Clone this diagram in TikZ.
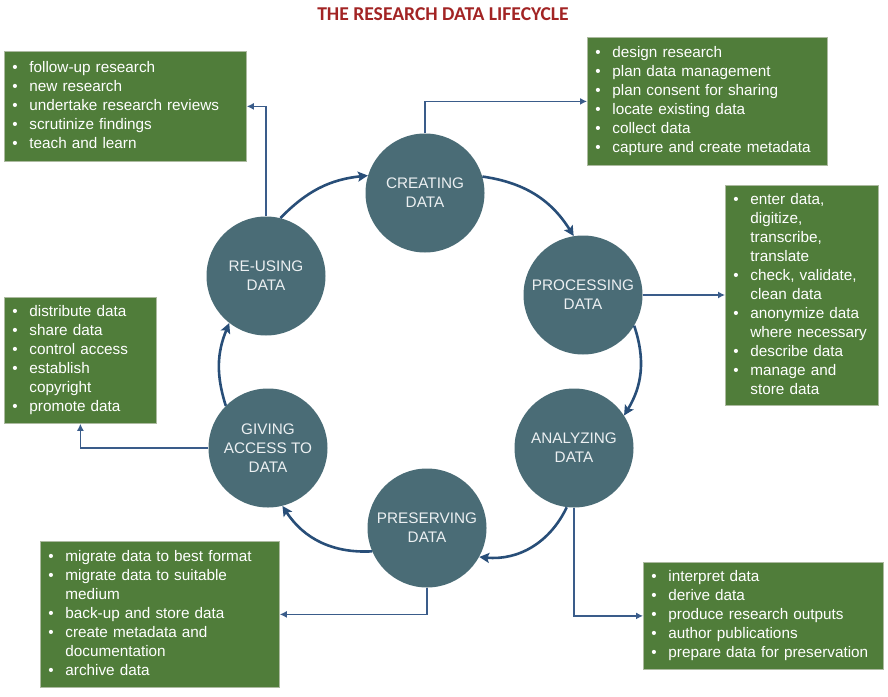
\documentclass[tikz,border=0pt]{standalone}
\usepackage{fontspec}
\setmainfont{Liberation Sans}
\newfontfamily\titlefont{Carlito}
\usetikzlibrary{arrows.meta,shapes,positioning}
\definecolor{stagefill}{RGB}{74,108,118}
\definecolor{stagetext}{RGB}{236,240,242}
\definecolor{boxgreen}{RGB}{80,125,58}
\definecolor{boxline}{RGB}{172,186,160}
\definecolor{turncol}{RGB}{40,78,120}
\definecolor{linkcol}{RGB}{58,92,138}
\definecolor{titlered}{RGB}{162,36,36}
\newcommand{\bul}{\textbullet}
\newcommand{\tasklist}[1]{\begin{tabular}{@{}p{17pt}@{}l@{}}#1\end{tabular}}

\begin{document}
\begin{tikzpicture}[x=1pt,y=-1pt]
   \useasboundingbox (0,0) rectangle (888,696);
   \tikzstyle{stage}=[circle, minimum size=119pt, inner sep=0pt, fill=stagefill, text=stagetext, align=center, font=\fontsize{15.3}{19}\selectfont]
   \tikzstyle{tasks}=[anchor=north west, draw=boxline, line width=0.8pt, fill=boxgreen, text=white, inner xsep=8pt, inner ysep=0pt, align=left, font=\fontsize{15.3}{19}\selectfont]
   \tikzstyle{turn}=[-{Stealth[length=10pt,width=10pt,inset=2pt]}, line width=2.6pt, draw=turncol]
   \tikzstyle{link}=[-{Latex[length=7pt,width=7pt]}, line width=1.3pt, draw=linkcol]
   \node[text=titlered, font=\titlefont\bfseries\fontsize{19.6}{22}\selectfont] (title) at (443,14) {THE RESEARCH DATA LIFECYCLE};
   % the six stages
   \foreach \name/\x/\y/\txt in {create/425/193/{CREATING\\DATA}, process/583/295/{PROCESSING\\DATA}, analyze/574/448/{ANALYZING\\DATA}, preserve/427/528/{PRESERVING\\DATA}, access/268/448/{GIVING\\ACCESS TO\\DATA}, reuse/266/276/{RE-USING\\DATA}} {
       \node[stage] (\name) at (\x,\y) {\txt};
   }
   \foreach \a/\b/\bend in {reuse.76/create.163/20, create.16/process.99/25, process.-31/analyze.33/25, analyze.-97/preserve.-29/35, preserve.-157/access.-76/30, access.135/reuse.-128/20} {
       \draw[turn] (\a) to[bend left=\bend] (\b);
   }
   % what happens in each stage
   \node[tasks, text width=226pt, minimum height=110pt] (reusebox) at (4,51) {\tasklist{
      \bul & follow-up research\\
      \bul & new research\\
      \bul & undertake research reviews\\
      \bul & scrutinize findings\\
      \bul & teach and learn}};
   \node[tasks, text width=224pt, minimum height=128pt] (createbox) at (587,37) {\tasklist{
      \bul & design research\\
      \bul & plan data management\\
      \bul & plan consent for sharing\\
      \bul & locate existing data\\
      \bul & collect data\\
      \bul & capture and create metadata}};
   \node[tasks, text width=137pt, minimum height=220pt] (processbox) at (725,185) {\tasklist{
      \bul & enter data,\\
          & digitize,\\
          & transcribe,\\
          & translate\\
      \bul & check, validate,\\
          & clean data\\
      \bul & anonymize data\\
          & where necessary\\
      \bul & describe data\\
      \bul & manage and\\
          & store data}};
   \node[tasks, text width=136pt, minimum height=126pt] (accessbox) at (4,297) {\tasklist{
      \bul & distribute data\\
      \bul & share data\\
      \bul & control access\\
      \bul & establish\\
          & copyright\\
      \bul & promote data}};
   \node[tasks, text width=223pt, minimum height=146pt] (preservebox) at (40,541) {\tasklist{
      \bul & migrate data to best format\\
      \bul & migrate data to suitable\\
          & medium\\
      \bul & back-up and store data\\
      \bul & create metadata and\\
          & documentation\\
      \bul & archive data}};
   \node[tasks, text width=224pt, minimum height=107pt] (analyzebox) at (643,562) {\tasklist{
      \bul & interpret data\\
      \bul & derive data\\
      \bul & produce research outputs\\
      \bul & author publications\\
      \bul & prepare data for preservation}};
   \draw[link] (create.north) |- (createbox.west);
   \draw[link] (process.east) -- (process.east -| processbox.west);
   \draw[link] (analyze.south) |- (analyzebox.west);
   \draw[link] (preserve.south) |- (preservebox.east);
   \draw[link] (access.west) -| (accessbox.south);
   \draw[link] (reuse.north) |- (reusebox.east);
\end{tikzpicture}
\end{document}
